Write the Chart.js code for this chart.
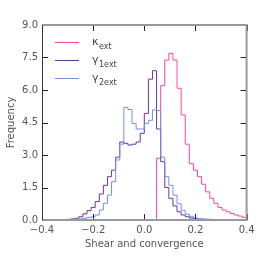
<!DOCTYPE html>
<html>
<head>
<meta charset="utf-8">
<script src="https://cdn.jsdelivr.net/npm/chart.js@4"></script>
<style>
  html, body { margin: 0; padding: 0; background: #fff; }
  #wrap { width: 260px; height: 260px; }
</style>
</head>
<body>
<div id="wrap"><canvas id="histChart" width="260" height="260"></canvas></div>
<script>
// histogram bins: 50 bins of width 0.016 from -0.4 to 0.4
const binStart = -0.4;
const binWidth = 0.016;

const kappaExt = [
    0, 0, 0, 0, 0, 0, 0, 0, 0, 0,
    0, 0, 0, 0, 0, 0, 0, 0, 0, 0,
    0, 0, 0, 0, 0, 0, 0, 0, 2.85, 6.2,
    7.38, 7.69, 7.38, 6.08, 4.85, 3.5, 2.6, 2.3, 2.0, 1.65,
    1.3, 1.0, 0.77, 0.58, 0.46, 0.38, 0.3, 0.23, 0.18, 0.12
];
const gamma1Ext = [
    0, 0.005, 0.01, 0.01, 0.015, 0.02, 0.03, 0.05, 0.08, 0.15,
    0.28, 0.43, 0.58, 0.85, 1.2, 1.6, 2.0, 2.3, 2.9, 3.6,
    3.54, 3.46, 3.5, 3.6, 4.0, 4.92, 6.5, 6.89, 4.2, 2.69,
    1.5, 1.0, 0.65, 0.38, 0.23, 0.15, 0.09, 0.05, 0.03, 0.02,
    0.015, 0.01, 0.01, 0.005, 0.005, 0.005, 0, 0, 0, 0
];
const gamma2Ext = [
    0, 0, 0, 0, 0, 0.005, 0.01, 0.02, 0.03, 0.05,
    0.08, 0.12, 0.15, 0.23, 0.46, 0.77, 1.15, 1.77, 2.77, 3.5,
    5.2, 5.1, 4.45, 4.2, 4.2, 4.45, 4.6, 5.08, 5.05, 2.9,
    2.0, 1.6, 1.15, 0.75, 0.45, 0.27, 0.17, 0.1, 0.07, 0.05,
    0.04, 0.03, 0.02, 0.02, 0.01, 0.01, 0.005, 0, 0, 0
];

const xTicks = [-0.4, -0.2, 0.0, 0.2, 0.4];
const yTicks = [0, 1.5, 3.0, 4.5, 6.0, 7.5, 9.0];

const seriesNames = ['κ|ext', 'γ|1ext', 'γ|2ext'];
const seriesColors = ['#ff45a2', '#6a37a0', '#6e92ee'];

// step outline like a matplotlib 'step' histogram
function stepPoints(values) {
    const pts = [{ x: binStart, y: 0 }];
    values.forEach((v, i) => pts.push({ x: binStart + i * binWidth, y: v }));
    const end = binStart + values.length * binWidth;
    pts.push({ x: end, y: values[values.length - 1] });
    pts.push({ x: end, y: 0 });
    return pts;
}

const fmt = v => v.toFixed(1).replace('-', '\u2212');

const frame = {
    id: 'frame',
    afterDatasetsDraw(chart) {
        const { ctx, chartArea: a, scales: { x, y } } = chart;
        ctx.save();

        // inward ticks on all four sides
        ctx.strokeStyle = '#222';
        ctx.lineWidth = 1;
        ctx.beginPath();
        yTicks.forEach(v => {
            const py = Math.round(y.getPixelForValue(v)) + 0.5;
            ctx.moveTo(a.left, py); ctx.lineTo(a.left + 6, py);
            ctx.moveTo(a.right - 6, py); ctx.lineTo(a.right, py);
        });
        xTicks.forEach(v => {
            const px = Math.round(x.getPixelForValue(v)) + 0.5;
            ctx.moveTo(px, a.bottom); ctx.lineTo(px, a.bottom - 6);
            ctx.moveTo(px, a.top); ctx.lineTo(px, a.top + 6);
        });
        ctx.stroke();

        // spines
        ctx.strokeStyle = '#999';
        ctx.lineWidth = 2;
        ctx.beginPath();
        ctx.moveTo(a.left, a.top); ctx.lineTo(a.right, a.top);
        ctx.lineTo(a.right, a.bottom); ctx.lineTo(a.left, a.bottom);
        ctx.stroke();
        ctx.strokeStyle = '#333';
        ctx.lineWidth = 1;
        ctx.beginPath();
        ctx.moveTo(a.left + 0.5, a.top); ctx.lineTo(a.left + 0.5, a.bottom);
        ctx.stroke();

        // legend
        seriesNames.forEach((name, i) => {
            const ly = 42 + i * 18;
            ctx.strokeStyle = seriesColors[i];
            ctx.lineWidth = 1;
            ctx.beginPath();
            ctx.moveTo(55, ly + 0.5); ctx.lineTo(79, ly + 0.5);
            ctx.stroke();
            const [main, sub] = name.split('|');
            ctx.fillStyle = '#444';
            ctx.textBaseline = 'alphabetic';
            ctx.font = '11px "DejaVu Sans"';
            ctx.fillText(main, 92, ly + 3);
            const w = ctx.measureText(main).width;
            ctx.font = '8px "DejaVu Sans"';
            ctx.fillText(sub, 92 + w + 0.5, ly + 7);
        });
        ctx.restore();
    }
};

const ctx = document.getElementById('histChart').getContext('2d');
new Chart(ctx, {
    type: 'line',
    data: {
        datasets: [kappaExt, gamma1Ext, gamma2Ext].map((vals, i) => ({
            label: seriesNames[i],
            data: stepPoints(vals),
            borderColor: seriesColors[i],
            borderWidth: 1,
            stepped: 'before',
            pointRadius: 0,
            fill: false,
            order: 3 - i,
        })),
    },
    options: {
        responsive: false,
        animation: false,
        layout: { padding: { left: 0, right: 13.4, top: 25, bottom: 0 } },
        plugins: { legend: { display: false }, tooltip: { enabled: false } },
        scales: {
            x: {
                type: 'linear',
                min: -0.4,
                max: 0.4,
                grid: { display: false, drawTicks: false },
                border: { display: false },
                afterBuildTicks: s => { s.ticks = xTicks.map(v => ({ value: v })); },
                afterFit: s => { s.height = 40; },
                ticks: {
                    color: '#555',
                    font: { family: 'DejaVu Sans', size: 10 },
                    padding: 4,
                    maxRotation: 0,
                    callback: v => fmt(v),
                },
                title: {
                    display: true,
                    text: 'Shear and convergence',
                    color: '#555',
                    font: { family: 'DejaVu Sans', size: 10 },
                    padding: { top: 2, bottom: 10 },
                },
            },
            y: {
                min: 0,
                max: 9,
                grid: { display: false, drawTicks: false },
                border: { display: false },
                afterBuildTicks: s => { s.ticks = yTicks.map(v => ({ value: v })); },
                afterFit: s => { s.width = 42; },
                ticks: {
                    color: '#555',
                    font: { family: 'DejaVu Sans', size: 10 },
                    padding: 4,
                    callback: v => fmt(v),
                },
                title: {
                    display: true,
                    text: 'Frequency',
                    color: '#555',
                    font: { family: 'DejaVu Sans', size: 10 },
                    padding: { top: 5, bottom: 2 },
                },
            },
        },
    },
    plugins: [frame],
});
</script>
</body>
</html>
